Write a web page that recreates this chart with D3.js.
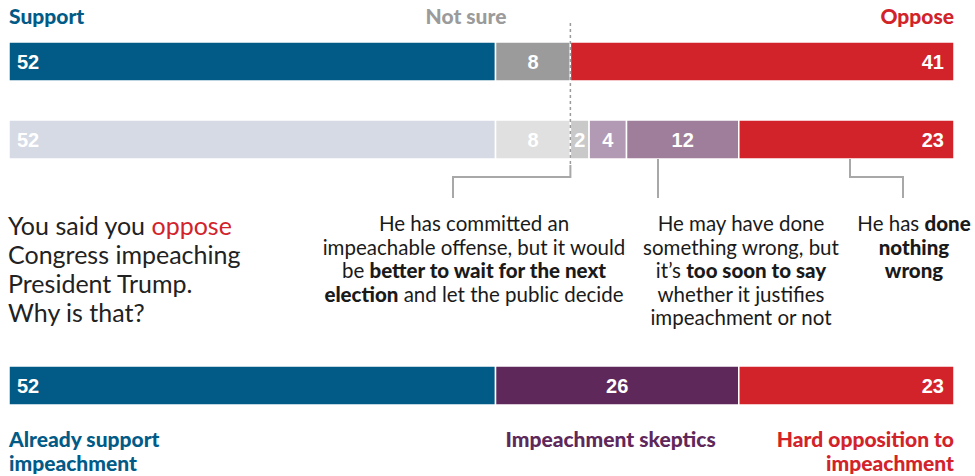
<!DOCTYPE html>
<html lang="en">
<head>
    <meta charset="UTF-8">
    <title>Impeachment</title>
    <script src="https://d3js.org/d3.v7.min.js"></script>
    <style>
        * {
            margin: 0;
            padding: 0;
        }
        body {
            background: #fff;
        }
        text {
            font-family: Lato, "Open Sans", sans-serif;
        }
        .num {
            font-family: "Liberation Sans", Arial, sans-serif;
            font-weight: bold;
            font-size: 20px;
            fill: #fff;
        }
    </style>
</head>
<body>
    <svg width="975" height="476"></svg>
    <script>
        // data
        var topCats = ["Support", "Not sure", "Oppose"];
        var topVals = [52, 8, 41];
        var topColors = ["#025b87", "#9b9b9b", "#d2232b"];

        var midVals = [52, 8, 2, 4, 12, 23];
        var midColors = ["#d5dae5", "#e0e0e0", "#c9c9c9", "#b39ab4", "#9e7e9a", "#d2232b"];

        var botCats = ["Already support impeachment", "Impeachment skeptics", "Hard opposition to impeachment"];
        var botVals = [52, 26, 23];
        var botColors = ["#025b87", "#5f285b", "#d2232b"];

        var width = 975,
            barH = 39;

        var svg = d3.select('svg');

        var x = d3.scaleLinear()
            .domain([0, d3.sum(topVals)])
            .range([9, 954]);

        function stack(vals) {
            var acc = 0;
            return vals.map(function (v, i) {
                var d = { value: v, i: i, n: vals.length, x0: acc, x1: acc + v };
                acc += v;
                return d;
            });
        }

        function drawBar(vals, colors, y) {
            var g = svg.append('g').attr('transform', 'translate(0,' + y + ')');
            var segs = stack(vals);
            g.selectAll('rect')
                .data(segs)
                .enter()
                .append('rect')
                .attr('x', function (d) { return x(d.x0); })
                .attr('width', function (d) { return x(d.x1) - x(d.x0); })
                .attr('height', barH)
                .attr('fill', function (d) { return colors[d.i]; })
                .attr('stroke', '#fff')
                .attr('stroke-width', 1.5);
            g.selectAll('text')
                .data(segs)
                .enter()
                .append('text')
                .attr('class', 'num')
                .attr('y', barH / 2)
                .attr('dy', '0.36em')
                .attr('x', function (d) {
                    if (d.i == 0) return x(d.x0) + 8;
                    if (d.i == d.n - 1) return x(d.x1) - 10;
                    return (x(d.x0) + x(d.x1)) / 2;
                })
                .style('text-anchor', function (d) {
                    if (d.i == 0) return 'start';
                    if (d.i == d.n - 1) return 'end';
                    return 'middle';
                })
                .text(function (d) { return d.value; });
            return segs;
        }

        var topSegs = drawBar(topVals, topColors, 42);
        drawBar(midVals, midColors, 120);
        var botSegs = drawBar(botVals, botColors, 366);

        // top headers
        svg.append('text').attr('x', x(0)).attr('y', 24)
            .style('font-weight', 900).style('font-size', '21px')
            .attr('fill', topColors[0]).text(topCats[0]);
        svg.append('text').attr('x', 466).attr('y', 24)
            .style('font-weight', 900).style('font-size', '21px').style('text-anchor', 'middle')
            .attr('fill', topColors[1]).text(topCats[1]);
        svg.append('text').attr('x', x(topSegs[2].x1)).attr('y', 24)
            .style('font-weight', 900).style('font-size', '21px').style('text-anchor', 'end')
            .attr('fill', topColors[2]).text(topCats[2]);

        // dashed divider
        svg.append('line')
            .attr('x1', x(60)).attr('x2', x(60))
            .attr('y1', 23).attr('y2', 165)
            .attr('stroke', '#9b9b9b').attr('stroke-width', 1.5)
            .attr('stroke-dasharray', '3,3');

        // bracket lines
        var brackets = [
            [[x(60), 165], [x(60), 177], [453, 177], [453, 198]],
            [[658, 159], [658, 198]],
            [[850, 159], [850, 177], [903, 177], [903, 198]]
        ];
        svg.selectAll('polyline.br')
            .data(brackets)
            .enter()
            .append('polyline')
            .attr('class', 'br')
            .attr('points', function (d) { return d.join(' '); })
            .attr('fill', 'none')
            .attr('stroke', '#a8a8a8')
            .attr('stroke-width', 2);

        // question
        var q = svg.append('text').attr('x', 8).style('font-size', '25px').attr('fill', '#222');
        var qLines = [
            [["You said you ", "#222"], ["oppose", "#d2232b"]],
            [["Congress impeaching", "#222"]],
            [["President Trump.", "#222"]],
            [["Why is that?", "#222"]]
        ];
        qLines.forEach(function (line, li) {
            line.forEach(function (part, pi) {
                var t = q.append('tspan').attr('fill', part[1]).text(part[0]);
                if (pi == 0) t.attr('x', 8).attr('y', 235 + li * 29);
            });
        });

        // annotations
        var notes = [
            {
                cx: 474, lines: [
                    [["He has committed an", 0]],
                    [["impeachable offense, but it would", 0]],
                    [["be ", 0], ["better to wait for the next", 1]],
                    [["election", 1], [" and let the public decide", 0]]
                ]
            },
            {
                cx: 741, lines: [
                    [["He may have done", 0]],
                    [["something wrong, but", 0]],
                    [["it\u2019s ", 0], ["too soon to say", 1]],
                    [["whether it justifies", 0]],
                    [["impeachment or not", 0]]
                ]
            },
            {
                cx: 914, lines: [
                    [["He has ", 0], ["done", 1]],
                    [["nothing", 1]],
                    [["wrong", 1]]
                ]
            }
        ];
        notes.forEach(function (n) {
            var t = svg.append('text')
                .style('font-size', '20.5px')
                .style('text-anchor', 'middle')
                .attr('fill', '#1a1a1a');
            n.lines.forEach(function (line, li) {
                line.forEach(function (part, pi) {
                    var s = t.append('tspan')
                        .style('font-weight', part[1] ? 900 : 400)
                        .text(part[0]);
                    if (pi == 0) s.attr('x', n.cx).attr('y', 231 + li * 23.6);
                });
            });
        });

        // bottom labels
        var botLabelLines = [
            ["Already support", "impeachment"],
            ["Impeachment skeptics"],
            ["Hard opposition to", "impeachment"]
        ];
        botSegs.forEach(function (d, i) {
            var t = svg.append('text')
                .style('font-weight', 900)
                .style('font-size', '21px')
                .attr('fill', botColors[i])
                .style('text-anchor', i == 2 ? 'end' : 'start');
            var lx = i == 2 ? x(d.x1) : (i == 0 ? x(d.x0) : x(d.x0) + 10);
            botLabelLines[i].forEach(function (s, li) {
                t.append('tspan').attr('x', lx).attr('y', 447 + li * 24).text(s);
            });
        });
    </script>
</body>
</html>
